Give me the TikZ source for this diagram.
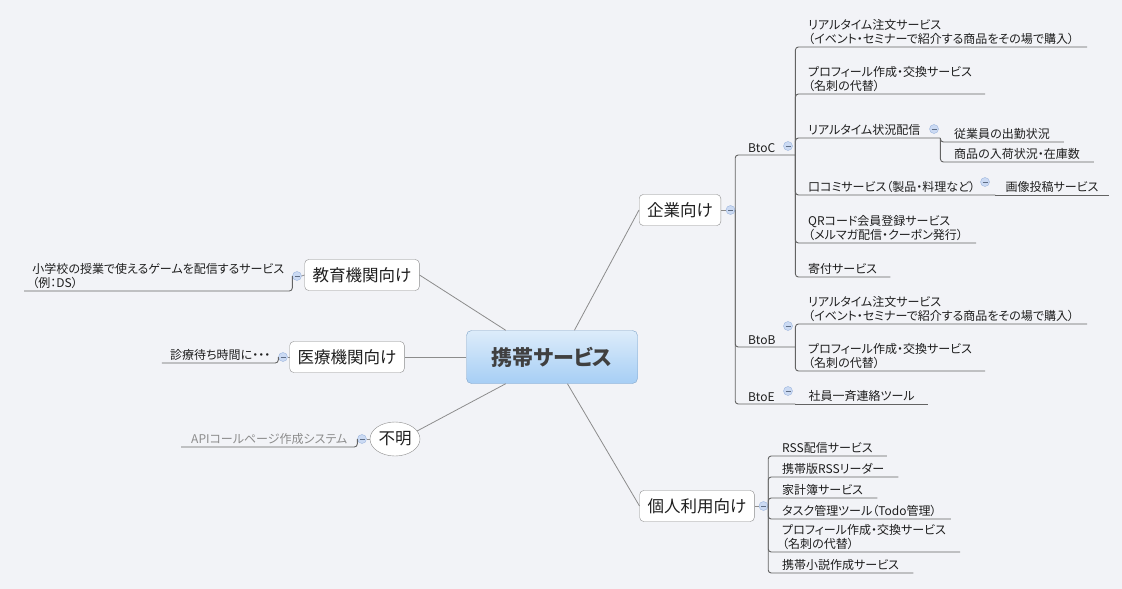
\documentclass[tikz,border=0pt]{standalone}
\usepackage{fontspec}
\newfontfamily\jpfont{Noto Sans CJK JP}[RawFeature=+palt]
\usetikzlibrary{positioning,calc,shapes.geometric}
\definecolor{cbg}{HTML}{F2F3F7}
\definecolor{cline}{HTML}{8C8C8C}
\definecolor{culine}{HTML}{636363}
\definecolor{ctxt}{HTML}{1E1E1E}
\definecolor{chubt}{HTML}{DDECFA}
\definecolor{chubb}{HTML}{A6CEF5}
\definecolor{chubd}{HTML}{7FA4C9}
\definecolor{cfold}{HTML}{CBDAF3}
\definecolor{cfoldd}{HTML}{9CB5DE}
\tikzset{
  hub/.style={draw=chubd, rounded corners=5pt, top color=chubt, bottom color=chubb, minimum width=171pt, minimum height=53pt, font=\jpfont\fontsize{21}{25}\selectfont\bfseries, text=black!75},
  topic/.style={draw=black!45, fill=white, rounded corners=4pt, minimum height=31pt, inner xsep=8pt, font=\jpfont\fontsize{16.5}{19}\selectfont, text=ctxt},
  leaf/.style={anchor=south west, inner xsep=13pt, inner ysep=2.5pt, align=left, font=\jpfont\fontsize{12}{14}\selectfont, text=ctxt},
  leafl/.style={leaf, anchor=south east, inner xsep=8pt},
  fold/.style={circle, draw=cfoldd, fill=cfold, minimum size=9pt, inner sep=0pt, path picture={\draw[cfoldd!60!black, line width=0.6pt] ([xshift=-2.5pt]path picture bounding box.center) -- ([xshift=2.5pt]path picture bounding box.center);}},
  link/.style={draw=cline, line width=0.8pt},
  uline/.style={draw=culine, line width=0.9pt, rounded corners=3pt},
}
\begin{document}
\begin{tikzpicture}[x=1pt, y=-1pt, font=\jpfont]
\fill[cbg] (0,0) rectangle (1122,589);
\useasboundingbox (0,0) rectangle (1122,589);
% main topics
\node[hub] (hub) at (552,357) {携帯サービス};
\node[topic] (corp) at (680,210) {企業向け};
\node[topic] (edu) at (362,275) {教育機関向け};
\node[topic] (med) at (347,357) {医療機関向け};
\node[topic, ellipse, rounded corners=0pt, minimum width=50pt, minimum height=34pt, inner sep=1pt] (unk) at (395,439) {不明};
\node[topic] (pers) at (697,506) {個人利用向け};
\draw[link] (hub.50) -- (corp.west);
\draw[link] (hub.150) -- (edu.east);
\draw[link] (hub.west) -- (med.east);
\draw[link] (hub.-150) -- (unk.20);
\draw[link] (hub.-60) -- (pers.west);
% corporate side
\node[fold] (corpf) at (730.5,210) {};
\draw[link] (corp.east) -- (corpf.west);
\node[leaf, text width=34pt] (btoc) at (735,155) {BtoC};
\node[leaf, text width=34pt] (btob) at (735,347) {BtoB};
\node[leaf, text width=34pt] (btoe) at (735,404) {BtoE};
\foreach \g in {btoc,btob,btoe} \draw[uline] (corpf.east) |- (\g.south east);
\node[leaf] (c1) at (795,47) {リアルタイム注文サービス\\（イベント・セミナーで紹介する商品をその場で購入）};
\node[leaf] (c2) at (795,94) {プロフィール作成・交換サービス\\（名刺の代替）};
\node[leaf, text width=119pt] (c3) at (795,138) {リアルタイム状況配信};
\node[leaf, text width=174pt] (c4) at (795,195) {口コミサービス（製品・料理など）};
\node[leaf] (c5) at (795,243) {QRコード会員登録サービス\\（メルマガ配信・クーポン発行）};
\node[leaf] (c6) at (795,277) {寄付サービス};
\foreach \c in {c1,c2,c3,c4,c5,c6} \draw[uline] (btoc.south east) |- (\c.south east);
\node[leaf, inner xsep=14pt] (c31) at (940,142) {従業員の出勤状況};
\node[leaf, inner xsep=14pt] (c32) at (940,162) {商品の入荷状況・在庫数};
\foreach \c in {c31,c32} \draw[uline] (c3.south east) |- (\c.south east);
\node[leaf, inner xsep=10pt] (c41) at (c4.south east) {画像投稿サービス};
\draw[uline] (c4.south east) -- (c41.south east);
\node[leaf] (b1) at (795,324) {リアルタイム注文サービス\\（イベント・セミナーで紹介する商品をその場で購入）};
\node[leaf] (b2) at (795,371) {プロフィール作成・交換サービス\\（名刺の代替）};
\foreach \c in {b1,b2} \draw[uline] (btob.south east) |- (\c.south east);
\node[leaf] (e1) at (btoe.south east) {社員一斉連絡ツール};
\draw[uline] (btoe.south east) -- (e1.south east);
\node[fold] at (788,146) {};
\node[fold] at (788,326) {};
\node[fold] at (788,391) {};
\node[fold] at (934,129) {};
\node[fold] at (985,182) {};
% personal use
\node[fold] (persf) at (763.5,506) {};
\draw[link] (pers.east) -- (persf.west);
\node[leaf, inner xsep=14pt] (p1) at (768,456) {RSS配信サービス};
\node[leaf, inner xsep=14pt] (p2) at (768,477) {携帯版RSSリーダー};
\node[leaf, inner xsep=14pt] (p3) at (768,498) {家計簿サービス};
\node[leaf, inner xsep=14pt] (p4) at (768,519) {タスク管理ツール（Todo管理）};
\node[leaf, inner xsep=14pt] (p5) at (768,552) {プロフィール作成・交換サービス\\（名刺の代替）};
\node[leaf, inner xsep=14pt] (p6) at (768,573) {携帯小説作成サービス};
\foreach \p in {p1,p2,p3,p4,p5,p6} \draw[uline] (persf.east) |- (\p.south east);
% left side
\node[fold] (eduf) at (297,276) {};
\draw[link] (edu.west) -- (eduf.east);
\node[leafl] (school) at (292.5,291) {小学校の授業で使えるゲームを配信するサービス\\（例：DS）};
\draw[uline] (eduf.west) |- (school.south west);
\node[fold] (medf) at (283,357) {};
\draw[link] (med.west) -- (medf.east);
\node[leafl] (wait) at (278.5,363) {診療待ち時間に・・・};
\draw[uline] (medf.west) |- (wait.south west);
\node[fold] (unkf) at (362,439) {};
\draw[link] (unk.west) -- (unkf.east);
\node[leafl, text=black!45, inner xsep=10pt] (api) at (357.5,447) {APIコールページ作成システム};
\draw[uline] (unkf.west) |- (api.south west);
\end{tikzpicture}
\end{document}
